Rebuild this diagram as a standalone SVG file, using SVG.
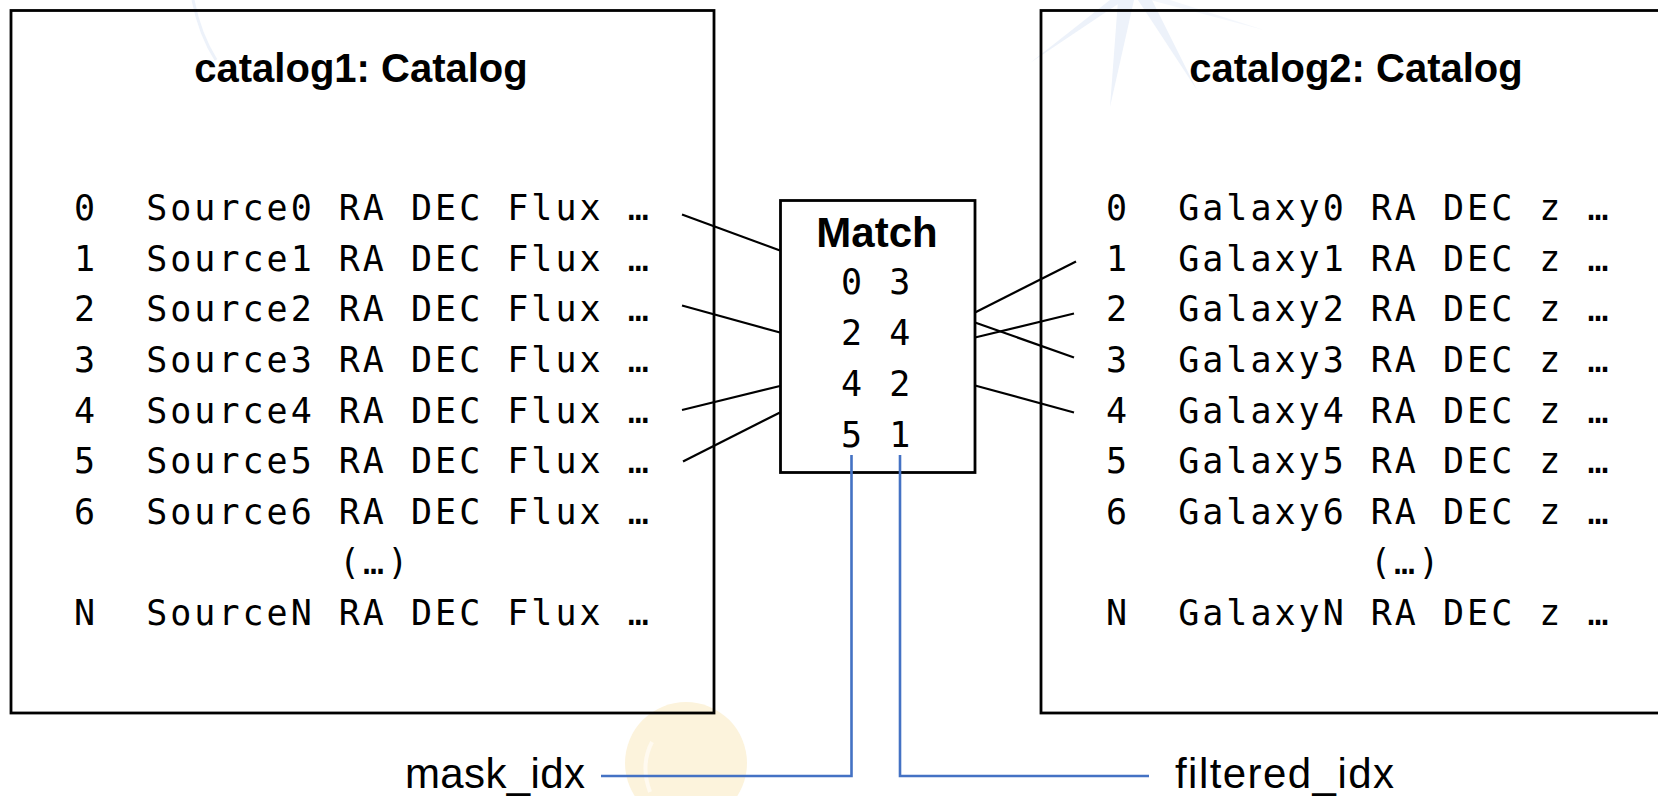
<svg xmlns="http://www.w3.org/2000/svg" width="1658" height="796" viewBox="0 0 1658 796">
<style>
.box{fill:none;stroke:#000;stroke-width:2.8}
.title{font-family:"Liberation Sans",Arial,sans-serif;font-weight:bold;font-size:40px;fill:#000;text-anchor:middle}
.mono{font-family:"DejaVu Sans Mono",monospace;font-size:35px;letter-spacing:3px;fill:#000;white-space:pre}
.lbl{font-family:"Liberation Sans",Arial,sans-serif;font-size:42px;fill:#000}
.conn{stroke:#000;stroke-width:2.2;fill:none}
.blue{stroke:#4472C4;stroke-width:2.6;fill:none}
.bg{fill:#EDF2FA}
</style>
<rect width="1658" height="796" fill="#fff"/>
<g id="background">
<polygon class="bg" points="1110,0 1124,0 1030,63"/>
<polygon class="bg" points="1118,0 1134,0 1110,107"/>
<polygon class="bg" points="1138,0 1152,0 1197,90"/>
<polygon class="bg" points="1150,0 1170,0 1264,30" opacity="0.6"/>
<path d="M193,0 Q200,35 216,60" stroke="#EDF2FA" stroke-width="3" fill="none"/>
<circle cx="686" cy="763" r="61" fill="#FCF3DC"/>
<path d="M652,742 Q640,765 650,792" stroke="#FFFAF0" stroke-width="4" fill="none"/>
</g>
<g id="catalog1">
<rect class="box" x="11" y="10.5" width="703" height="702.5"/>
<text class="title" x="361" y="82">catalog1: Catalog</text>
<text class="mono" x="74" y="220">0&#160; Source0 RA DEC Flux …</text>
<text class="mono" x="74" y="270.5">1&#160; Source1 RA DEC Flux …</text>
<text class="mono" x="74" y="321">2&#160; Source2 RA DEC Flux …</text>
<text class="mono" x="74" y="372">3&#160; Source3 RA DEC Flux …</text>
<text class="mono" x="74" y="422.5">4&#160; Source4 RA DEC Flux …</text>
<text class="mono" x="74" y="473">5&#160; Source5 RA DEC Flux …</text>
<text class="mono" x="74" y="523.5">6&#160; Source6 RA DEC Flux …</text>
<text class="mono" x="339" y="574">(…)</text>
<text class="mono" x="74" y="624.5">N&#160; SourceN RA DEC Flux …</text>
</g>
<g id="catalog2">
<rect class="box" x="1041" y="10.5" width="700" height="702.5"/>
<text class="title" x="1356" y="82">catalog2: Catalog</text>
<text class="mono" x="1106" y="220">0&#160; Galaxy0 RA DEC z …</text>
<text class="mono" x="1106" y="270.5">1&#160; Galaxy1 RA DEC z …</text>
<text class="mono" x="1106" y="321">2&#160; Galaxy2 RA DEC z …</text>
<text class="mono" x="1106" y="372">3&#160; Galaxy3 RA DEC z …</text>
<text class="mono" x="1106" y="422.5">4&#160; Galaxy4 RA DEC z …</text>
<text class="mono" x="1106" y="473">5&#160; Galaxy5 RA DEC z …</text>
<text class="mono" x="1106" y="523.5">6&#160; Galaxy6 RA DEC z …</text>
<text class="mono" x="1370" y="574">(…)</text>
<text class="mono" x="1106" y="624.5">N&#160; GalaxyN RA DEC z …</text>
</g>
<g id="match">
<rect class="box" x="780.5" y="200.5" width="194.5" height="272"/>
<text class="title" x="877" y="247" style="font-size:42px">Match</text>
<text class="mono" x="841" y="294">0 3</text>
<text class="mono" x="841" y="345">2 4</text>
<text class="mono" x="841" y="396">4 2</text>
<text class="mono" x="841" y="447">5 1</text>
</g>
<g id="mask_idx">
<text class="lbl" x="405" y="788" textLength="180">mask_idx</text>
</g>
<g id="filtered_idx">
<text class="lbl" x="1175" y="788" textLength="219">filtered_idx</text>
</g>
<g id="connectors">
<line class="conn" x1="682" y1="214.5" x2="780" y2="250.5"/>
<line class="conn" x1="682" y1="305.5" x2="780" y2="332.5"/>
<line class="conn" x1="682" y1="410" x2="780" y2="386"/>
<line class="conn" x1="683" y1="461.5" x2="780" y2="412.5"/>
<line class="conn" x1="975" y1="312.5" x2="1076" y2="261.5"/>
<line class="conn" x1="975" y1="337.5" x2="1074" y2="313.5"/>
<line class="conn" x1="975" y1="322.5" x2="1074" y2="357.5"/>
<line class="conn" x1="975" y1="385.5" x2="1074" y2="412.5"/>
<polyline class="blue" points="851.5,455 851.5,776 601,776"/>
<polyline class="blue" points="900,455 900,776 1149,776"/>
</g>
</svg>
